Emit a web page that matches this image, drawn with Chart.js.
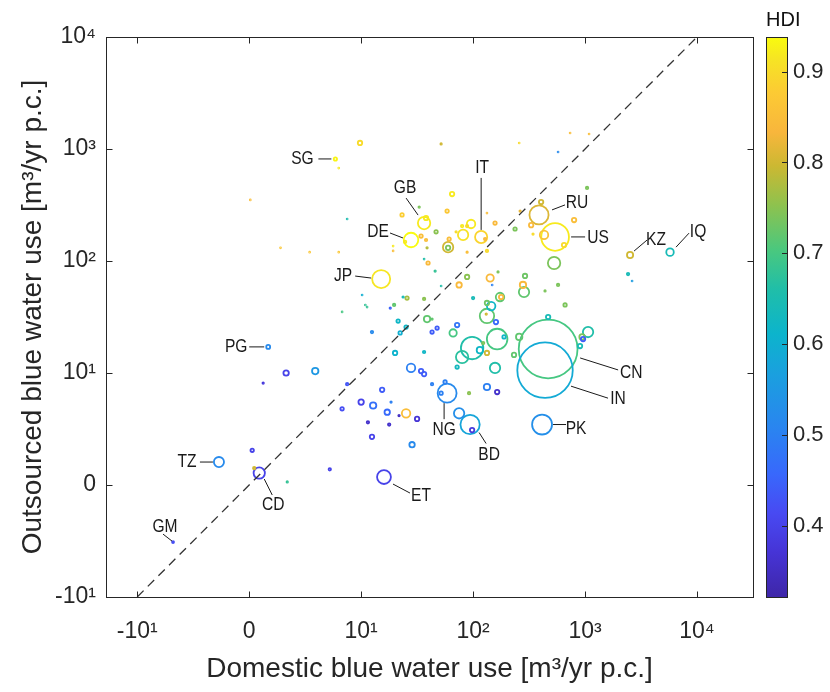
<!DOCTYPE html>
<html><head><meta charset="utf-8">
<script src="https://cdn.jsdelivr.net/npm/chart.js@4"></script>
<style>html,body{margin:0;padding:0;background:#fff}canvas{display:block}</style>
</head><body>
<canvas id="c" width="830" height="692"></canvas>
<script>
// ---------------- data ----------------
// first entries are the labelled countries, in the same order as `labelled`
const labelled = ['SG','GB','DE','JP','IT','RU','US','KZ','IQ','PG','TZ','CD','GM','ET','NG','BD','CN','IN','PK'];

// domestic blue water use [m3/yr p.c.]
const domestic = [7.7,36.5,27.9,15.1,118,388,540,2523,5740,1.7,-2.7,0.9,-6.8,16.0,58.6,94,468,439,413,
 9.9,51.8,258,574,735,1086,8.0,0.1,8.75,2.8,5.4,8.0,23.2,33.0,64.9,58.6,38.0,24.7,19.3,19.3,34.3,38.0,46.7,38.8,
 95.9,81.4,79.8,88.4,70.5,61.1,59.8,59.8,88.4,39.6,36.5,45.8,51.8,75,88.4,142,148,167,128,133,157,133,237,263,
 330,343,405,430,649,798,1042,529,291,279,574,439,285,663,2421,2630,36.5,10.2,10.9,11.3,8.3,18.2,19.7,23.7,25.7,
 38.8,43.0,21.4,25.2,12.5,22.3,43.0,47.7,72,66.3,100,174,178,145,133,131,133,160,20.1,36.5,98,79.8,115,123,133,
 164,189,258,232,157,72,468,1064,960,940,902,27.9,34.3,36.5,43.0,56.2,51.8,92,133,164,75,98,3.3,5.9,1.25,8.75,
 8.3,10,12.8,15.4,18.5,17.1,11.5,17.8,21.8,25.2,31.6,12.5,28.5,0.27,7.2,3.4,0.45];

// outsourced blue water use [m3/yr p.c.]
const outsourced = [815,218,154,69,164,258,164,113,120,17.1,2.05,1.07,-5.1,0.71,8.2,5.4,16.4,10.6,5.4,
 1132,1109,1132,940,1390,1361,676,351,237,131,120,120,258,303,396,279,242,148,136,123,167,154,182,131,
 214,171,205,205,182,157,133,131,120,96,104,81.4,59.8,61.1,72,70.5,61.1,79.8,157,268,218,123,193,279,
 209,174,336,171,139,232,449,96,73.5,61.1,61.1,54,52.9,40.5,76.5,66.3,45.8,49.7,40.5,38.8,35.1,38.0,40.5,47.7,46.7,
 30.3,30.3,29.1,25.7,23.2,22.8,23.2,25.2,26.8,22.8,46.7,47.7,47.7,39.6,42.2,33.6,32.3,28.5,15.1,15.4,16.7,13.9,16.0,18.5,15.1,
 20.1,21.0,21.0,14.5,11.1,11.3,31.6,23.2,20.1,21.0,17.4,11.1,10.4,9.9,9.0,9.2,8.2,8.2,8.75,8.3,6.4,4.9,10,10.4,9.1,9.0,
 6.8,7.4,7.1,8.5,7.4,6.5,5.6,5.4,6.2,6.4,5.9,4.3,3.6,3.1,1.4,0.27,1.5];

// population [million] (bubble area)
const population = [4.3,60,82,127,58,143,300,15,22,6,40,50,1.5,75,140,145,1350,1200,155,
 7.6,0.8,0.3,0.3,0.3,0.3,0.3,0.3,0.3,0.3,0.3,0.3,4.5,0.8,7.6,4.5,7.6,2.3,0.3,0.3,4.5,2.3,4.5,0.8,
 28,42,2.3,2.3,0.8,4.5,42,7.6,0.8,4.5,0.3,0.8,0.3,11.4,7.6,21,0.3,0.8,2.3,0.3,4.5,2.3,4.5,0.8,
 7.6,0.8,7.6,28,7.6,7.6,2.3,60,7.6,16,2.3,0.8,42,4.5,2.3,0.3,2.3,0.3,0.3,0.3,0.3,0.8,2.3,0.8,4.5,
 16,0.8,4.5,4.5,2.3,4.5,4.5,4.5,7.6,21,2.3,28,7.6,28,7.6,0.8,81,7.6,7.6,2.3,196,60,16,2.3,7.6,
 165,4.5,16,7.6,42,4.5,7.6,42,7.6,11.4,7.6,28,7.6,7.6,2.3,4.5,4.5,2.3,16,7.6,42,7.6,11.4,16,0.8,2.3,
 4.5,11.4,16,7.6,0.8,11.4,2.3,2.3,0.8,28,7.6,7.6,11.4,4.5,2.3,0.8,2.3];

// Human Development Index (colour)
const hdi = [0.93,0.92,0.94,0.915,0.89,0.81,0.92,0.80,0.64,0.52,0.52,0.40,0.42,0.40,0.52,0.58,0.70,0.59,0.53,
 0.90,0.80,0.90,0.52,0.85,0.85,0.92,0.85,0.65,0.87,0.87,0.87,0.88,0.74,0.92,0.87,0.92,0.92,0.92,0.85,0.85,0.85,0.75,0.78,
 0.92,0.91,0.92,0.90,0.90,0.85,0.80,0.74,0.85,0.84,0.66,0.68,0.66,0.84,0.75,0.84,0.50,0.74,0.84,0.85,0.84,0.90,0.74,0.82,
 0.84,0.90,0.80,0.86,0.90,0.85,0.74,0.74,0.73,0.84,0.74,0.74,0.72,0.74,0.64,0.56,0.75,0.60,0.68,0.68,0.70,0.45,0.72,0.64,0.77,
 0.72,0.72,0.62,0.62,0.52,0.60,0.44,0.44,0.48,0.70,0.64,0.72,0.84,0.62,0.73,0.80,0.72,0.46,0.61,0.62,0.66,0.67,0.62,0.74,0.80,
 0.70,0.62,0.72,0.72,0.66,0.63,0.64,0.66,0.44,0.74,0.64,0.50,0.44,0.44,0.50,0.50,0.50,0.75,0.50,0.36,0.53,0.38,0.40,0.55,0.38,0.43,
 0.42,0.40,0.47,0.44,0.50,0.46,0.36,0.36,0.35,0.85,0.37,0.40,0.52,0.40,0.40,0.68,0.80];

const xTickValues = [-10, 0, 10, 100, 1000, 10000];
const xTickLabels = ['-10¹', '0', '10¹', '10²', '10³', '10⁴'];
const yTickValues = [-10, 0, 10, 100, 1000, 10000];
const yTickLabels = ['-10¹', '0', '10¹', '10²', '10³', '10⁴'];
const hdiTicks = [0.4, 0.5, 0.6, 0.7, 0.8, 0.9];
const hdiRange = [0.322, 0.938];
const xLimits = [-19, 31623];
const yLimits = [-10, 10000];
const identityLine = [-10, 10000];

// ---------------- helpers ----------------
const LINTHRESH = 10;
function symlog(v){ const a = Math.abs(v); return a <= LINTHRESH ? v / LINTHRESH : Math.sign(v) * Math.log10(a); }

const parulaStops = [[0,[62,38,168]],[0.08,[70,52,214]],[0.15,[72,74,242]],[0.22,[56,104,252]],[0.3,[42,132,240]],
 [0.4,[26,160,222]],[0.47,[12,180,204]],[0.55,[32,190,168]],[0.62,[74,200,126]],[0.70,[142,194,78]],
 [0.77,[204,184,50]],[0.83,[248,182,60]],[0.9,[252,202,52]],[0.96,[246,228,36]],[1,[249,251,14]]];
function parula(t){
  t = Math.max(0, Math.min(1, t));
  for (let i = 1; i < parulaStops.length; i++){
    const [t1,c1] = parulaStops[i], [t0,c0] = parulaStops[i-1];
    if (t <= t1){ const f = (t - t0) / (t1 - t0); return 'rgb(' + c0.map((c,k)=>Math.round(c + (c1[k]-c)*f)).join(',') + ')'; }
  }
  return 'rgb(249,251,14)';
}
const hdiColor = h => parula((h - hdiRange[0]) / (hdiRange[1] - hdiRange[0]));
const radiusOf = p => 0.8 * Math.sqrt(p);

// label layout: [text dx, text dy, line x1, y1, x2, y2] relative to the bubble centre, in pixels
const labelLayout = {
  SG:[-33,0,-4,0,-17,0], GB:[-19,-35,-6,-8,-18,-25], DE:[-33,-8,-8,-2,-21,-7], JP:[-38,-3,-10,-1,-26,-3],
  IT:[1,-69,0,-7,0,-59], RU:[38,-12,13,-5,26,-10], US:[43,1,16,0,30,0], KZ:[26,-15,4,-4,17,-15],
  IQ:[28,-20,6,-5,19,-19], PG:[-32,0,-4,0,-19,0], TZ:[-32,0,-6,0,-19,0], CD:[14,32,5,6,13,22],
  GM:[-8,-15,-1,-1,-10,-8], ET:[37,19,9,7,26,16], NG:[-3,37,-3,10,-3,26], BD:[19,30,9,8,16,19],
  CN:[83,24,32,9,70,21], IN:[73,29,26,16,63,28], PK:[34,4,11,0,24,0]
};

// bubbles, large first so small ones stay visible on top
const order = domestic.map((_, i) => i).sort((a, b) => population[b] - population[a]);
const bubblePts = order.map(i => ({x: symlog(domestic[i]), y: symlog(outsourced[i]), r: radiusOf(population[i])}));
const bubbleCols = order.map(i => hdiColor(hdi[i]));

const FONT = "'Liberation Sans', Arial, Helvetica, sans-serif";
const INK = '#262626';
Chart.defaults.font.family = FONT;
Chart.defaults.color = INK;

let narrowOK = null;
function drawCode(ctx, text, x, y){
  if (narrowOK === null){
    ctx.font = "40px 'Liberation Sans Narrow', monospace"; const a = ctx.measureText('GBDESGCN').width;
    ctx.font = "40px monospace"; const b = ctx.measureText('GBDESGCN').width;
    narrowOK = Math.abs(a - b) > 0.5;
  }
  ctx.save();
  ctx.translate(x, y);
  if (narrowOK){ ctx.font = "19px 'Liberation Sans Narrow'"; }
  else { ctx.font = "19px " + FONT; ctx.scale(0.82, 1); }
  ctx.fillText(text, 0, 0);
  ctx.restore();
}

const noPad = s => { s.paddingTop = 0; s.paddingBottom = 0; s.paddingLeft = 0; s.paddingRight = 0; };

const decor = {
  id: 'decor',
  afterDatasetsDraw(chart){
    const ctx = chart.ctx, xs = chart.scales.x, ys = chart.scales.y;
    ctx.save();
    ctx.strokeStyle = '#1a1a1a'; ctx.fillStyle = '#1a1a1a'; ctx.lineWidth = 1;
    ctx.textAlign = 'center'; ctx.textBaseline = 'middle';
    labelled.forEach((code, i) => {
      const L = labelLayout[code];
      const px = xs.getPixelForValue(symlog(domestic[i])), py = ys.getPixelForValue(symlog(outsourced[i]));
      ctx.beginPath(); ctx.moveTo(px + L[2], py + L[3]); ctx.lineTo(px + L[4], py + L[5]); ctx.stroke();
      drawCode(ctx, code, px + L[0], py + L[1]);
    });
    ctx.restore();
  },
  afterDraw(chart){
    const ctx = chart.ctx, a = chart.chartArea, xs = chart.scales.x, ys = chart.scales.y, hs = chart.scales.hdi;
    ctx.save();
    ctx.strokeStyle = INK; ctx.lineWidth = 1;
    const L = Math.round(a.left) + 0.5, R = Math.round(a.right) + 0.5, T = Math.round(a.top) + 0.5, B = Math.round(a.bottom) + 0.5;
    ctx.strokeRect(L, T, R - L, B - T);
    const tl = 6;
    ctx.beginPath();
    xs.ticks.forEach(t => { const x = Math.round(xs.getPixelForValue(t.value)) + 0.5; ctx.moveTo(x, B); ctx.lineTo(x, B - tl); ctx.moveTo(x, T); ctx.lineTo(x, T + tl); });
    ys.ticks.forEach(t => { const y = Math.round(ys.getPixelForValue(t.value)) + 0.5; ctx.moveTo(L, y); ctx.lineTo(L + tl, y); ctx.moveTo(R, y); ctx.lineTo(R - tl, y); });
    ctx.stroke();
    // colour bar
    const x0 = Math.round(a.right) + 13, x1 = Math.round(a.right) + 34;
    const yT = hs.getPixelForValue(hdiRange[1]), yB = hs.getPixelForValue(hdiRange[0]);
    const g = ctx.createLinearGradient(0, yB, 0, yT);
    parulaStops.forEach(([t, c]) => g.addColorStop(t, 'rgb(' + c.join(',') + ')'));
    ctx.fillStyle = g; ctx.fillRect(x0, yT, x1 - x0, yB - yT);
    ctx.strokeRect(x0 + 0.5, Math.round(yT) + 0.5, x1 - x0, Math.round(yB - yT));
    ctx.beginPath();
    hs.ticks.forEach(t => { const y = Math.round(hs.getPixelForValue(t.value)) + 0.5; ctx.moveTo(x1, y); ctx.lineTo(x1 - 5, y); });
    ctx.stroke();
    ctx.fillStyle = '#111'; ctx.font = '20px ' + FONT; ctx.textAlign = 'left'; ctx.textBaseline = 'middle';
    ctx.fillText('HDI', x0, a.top - 17);
    ctx.restore();
  }
};

new Chart(document.getElementById('c'), {
  type: 'bubble',
  data: {
    datasets: [
      { type: 'line', data: identityLine.map(v => ({x: symlog(v), y: symlog(v)})), borderColor: '#333', borderWidth: 1.3,
        borderDash: [9, 6], pointRadius: 0, fill: false, order: 0 },
      { type: 'bubble', data: bubblePts, borderColor: bubbleCols, backgroundColor: 'rgba(0,0,0,0)', borderWidth: 1.8, order: 1 }
    ]
  },
  options: {
    responsive: false, animation: false, devicePixelRatio: 1, events: [],
    layout: { padding: {top: 37, right: 0, bottom: 0, left: 0}, autoPadding: false },
    plugins: { legend: {display: false}, tooltip: {enabled: false} },
    scales: {
      x: {
        type: 'linear', min: symlog(xLimits[0]), max: symlog(xLimits[1]),
        grid: {display: false, drawTicks: false}, border: {display: false},
        afterBuildTicks: s => { s.ticks = xTickValues.map(v => ({value: symlog(v)})); },
        afterFit: s => { s.height = 95; noPad(s); },
        ticks: {autoSkip: false, maxRotation: 0, padding: 21, font: {size: 23}, color: INK, callback: (v, i) => xTickLabels[i]},
        title: {display: true, text: 'Domestic blue water use [m³/yr p.c.]', font: {size: 28}, color: INK, padding: {top: 0, bottom: 6}}
      },
      y: {
        type: 'linear', position: 'left', min: symlog(yLimits[0]), max: symlog(yLimits[1]),
        grid: {display: false, drawTicks: false}, border: {display: false},
        afterBuildTicks: s => { s.ticks = yTickValues.map(v => ({value: symlog(v)})); },
        afterFit: s => { s.width = 106; noPad(s); },
        ticks: {autoSkip: false, padding: 10, font: {size: 23}, color: INK, callback: (v, i) => yTickLabels[i]},
        title: {display: true, text: 'Outsourced blue water use [m³/yr p.c.]', font: {size: 28}, color: INK, padding: {top: 16, bottom: 0}}
      },
      hdi: {
        type: 'linear', axis: 'y', position: 'right', min: hdiRange[0], max: hdiRange[1],
        grid: {display: false, drawTicks: false}, border: {display: false},
        afterBuildTicks: s => { s.ticks = hdiTicks.map(v => ({value: v})); },
        afterFit: s => { s.width = 77; noPad(s); },
        ticks: {autoSkip: false, padding: 40, font: {size: 22}, color: INK, callback: v => v.toFixed(1)}
      }
    }
  },
  plugins: [decor]
});
</script>
</body></html>
